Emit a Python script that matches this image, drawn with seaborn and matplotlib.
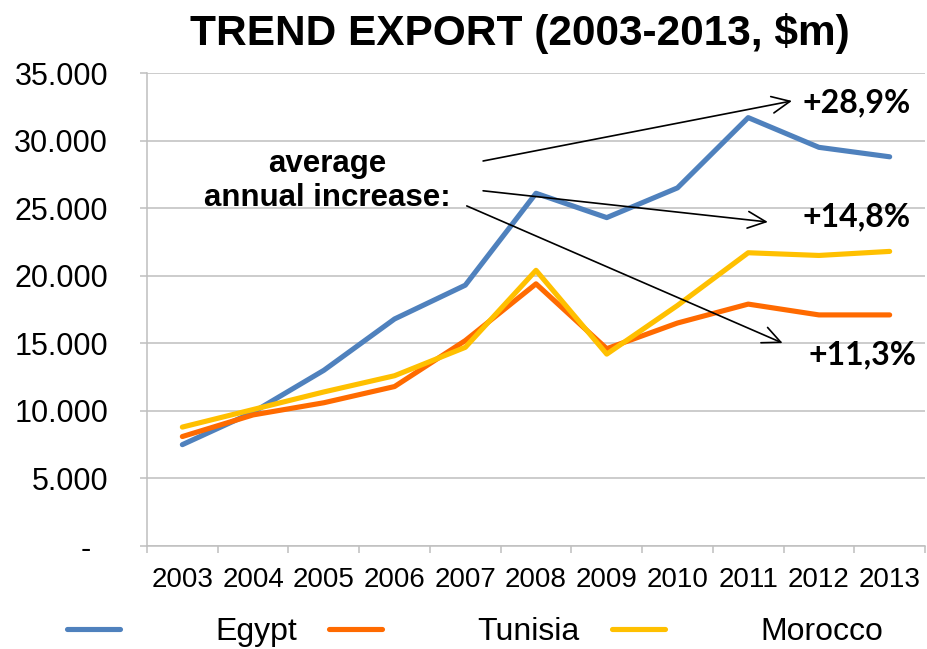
import pandas as pd
import matplotlib.pyplot as plt
import seaborn as sns
from matplotlib.ticker import FuncFormatter, MultipleLocator

# ─── Data ($m) ───────────────────────────────────────────────────────────────
YEARS = [2003, 2004, 2005, 2006, 2007, 2008, 2009, 2010, 2011, 2012, 2013]
EGYPT = [7500, 9900, 13000, 16800, 19300, 26100, 24300, 26500, 31700, 29500, 28800]
TUNISIA = [8100, 9700, 10600, 11800, 15200, 19400, 14600, 16500, 17900, 17100, 17100]
MOROCCO = [8800, 10100, 11400, 12600, 14700, 20400, 14200, 17800, 21700, 21500, 21800]

COUNTRIES = ["Egypt", "Tunisia", "Morocco"]
COLORS = ["#4F81BD", "#FF6A00", "#FFC000"]
GROWTH = ["+28,9%", "+14,8%", "+11,3%"]

df = pd.DataFrame({
    "year": YEARS * 3,
    "value": EGYPT + TUNISIA + MOROCCO,
    "country": [c for c in COUNTRIES for _ in YEARS],
})

# ─── Style ───────────────────────────────────────────────────────────────────
sns.set_style("white")
plt.rcParams["font.family"] = ["Liberation Sans", "DejaVu Sans"]
plt.rcParams["text.color"] = "black"
plt.rcParams["xtick.labelcolor"] = "black"
plt.rcParams["ytick.labelcolor"] = "black"

fig = plt.figure(figsize=(9.28, 6.49), dpi=100)
ax = fig.add_axes([0.1584, 0.1587, 0.8384, 0.7288])

sns.lineplot(
    data=df, x="year", y="value", hue="country",
    hue_order=COUNTRIES, palette=COLORS,
    linewidth=3.7, ax=ax, legend=True,
)
for ln in ax.get_lines():
    ln.set_solid_capstyle("round")
    ln.set_solid_joinstyle("round")

# ─── Axes ────────────────────────────────────────────────────────────────────
ax.set_xlim(YEARS[0] - 0.5, YEARS[-1] + 0.5)
ax.set_ylim(0, 35000)
ax.set_xticks(YEARS)
ax.set_xticklabels([str(y) for y in YEARS])
ax.xaxis.set_minor_locator(MultipleLocator(1, offset=0.5))
ax.yaxis.set_major_locator(MultipleLocator(5000))
ax.yaxis.set_major_formatter(FuncFormatter(
    lambda v, _: "-  " if v == 0 else f"{v:,.0f}".replace(",", ".")))
ax.set_xlabel("")
ax.set_ylabel("")

grey = "#BFBFBF"
ax.grid(axis="y", color=grey, linewidth=1.1)
ax.grid(axis="x", visible=False)
for side in ["top", "right"]:
    ax.spines[side].set_visible(False)
for side in ["left", "bottom"]:
    ax.spines[side].set_color(grey)
    ax.spines[side].set_linewidth(1.1)

ax.tick_params(axis="x", which="major", length=0, pad=15, labelsize=20)
ax.tick_params(axis="x", which="minor", length=5, width=1.1, color=grey,
               direction="out", bottom=True)
ax.tick_params(axis="y", length=5, width=1.1, color=grey, direction="out",
               left=True, pad=23, labelsize=22)

# ─── Title ───────────────────────────────────────────────────────────────────
fig.text(0.56, 0.949, "TREND EXPORT (2003-2013, $m)", ha="center", va="center",
         fontsize=30.5, fontweight="bold")

# ─── Annotations ─────────────────────────────────────────────────────────────
ax.text(0.232, 0.772, "average\nannual increase:", transform=ax.transAxes,
        ha="center", va="center", multialignment="center",
        fontsize=22.5, fontweight="bold", linespacing=1.15)

arrow_style = dict(arrowstyle="->,head_length=1.3,head_width=0.6",
                   color="black", lw=1.2, shrinkA=0, shrinkB=0)
arrows = [((0.432, 0.814), (0.829, 0.941)),
          ((0.432, 0.751), (0.798, 0.685)),
          ((0.411, 0.719), (0.817, 0.429))]
for start, end in arrows:
    ax.annotate("", xy=end, xytext=start, xycoords="axes fraction",
                textcoords="axes fraction", arrowprops=arrow_style)

label_pos = [(0.842, 0.937), (0.842, 0.696), (0.850, 0.404)]
for txt, (x, y) in zip(GROWTH, label_pos):
    ax.text(x, y, txt, transform=ax.transAxes, ha="left", va="center",
            fontsize=23, fontweight="bold", family=["Lato", "DejaVu Sans"])

# ─── Legend ──────────────────────────────────────────────────────────────────
handles, labels = ax.get_legend_handles_labels()
ax.get_legend().remove()
for h in handles:
    h.set_linewidth(3.7)
    h.set_solid_capstyle("round")
fig.legend(handles, labels, loc="center", bbox_to_anchor=(0.512, 0.026),
           ncol=3, frameon=False, fontsize=23, handlelength=1.65,
           handletextpad=3.0, columnspacing=1.0)

fig.savefig("out.png", dpi=100)
